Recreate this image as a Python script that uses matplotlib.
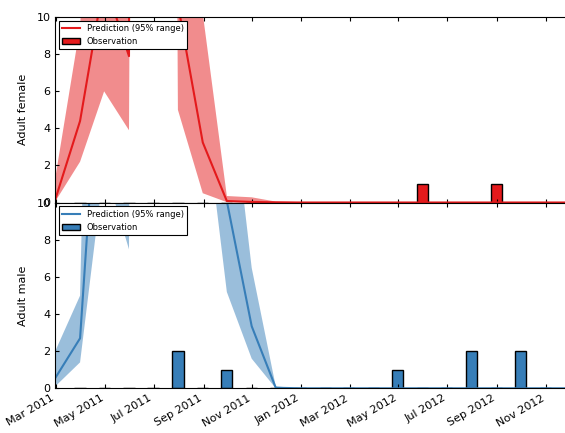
import numpy as np
import pandas as pd
import matplotlib
matplotlib.use('Agg')
import matplotlib.pyplot as plt
import matplotlib.dates as mdates

# 月末の日付 (Feb 2011 - Nov 2012)
dates = pd.date_range('2011-03-01', '2012-12-01', freq='MS') - pd.Timedelta(days=1)

# 予測 (中央値, 95%範囲) - Adult female
female_med = [0.15, 4.4, 12.0, 7.9, 500, 10.7, 3.24, 0.08, 0.03, 0.01, 0.0,
              0.0, 0.0, 0.0, 0.0, 0.0, 0.0, 0.0, 0.0, 0.0, 0.0, 0.0]
female_lo = [0.05, 2.2, 6.0, 3.9, 250, 5.0, 0.5, 0.02, 0.0, 0.0, 0.0,
             0.0, 0.0, 0.0, 0.0, 0.0, 0.0, 0.0, 0.0, 0.0, 0.0, 0.0]
female_hi = [1.3, 9.5, 30, 30, 1000, 40, 10.2, 0.35, 0.28, 0.05, 0.02,
             0.0, 0.0, 0.0, 0.0, 0.0, 0.0, 0.0, 0.0, 0.0, 0.0, 0.0]

# 予測 - Adult male
male_med = [0.55, 2.7, 22, 30, 500, 500, 30, 10.1, 3.35, 0.03, 0.0,
            0.0, 0.0, 0.0, 0.0, 0.0, 0.0, 0.0, 0.0, 0.0, 0.0, 0.0]
male_lo = [0.1, 1.4, 12, 7.5, 250, 250, 15.9, 5.2, 1.6, 0.0, 0.0,
           0.0, 0.0, 0.0, 0.0, 0.0, 0.0, 0.0, 0.0, 0.0, 0.0, 0.0]
male_hi = [2.0, 5.0, 60, 60, 1000, 1000, 60, 18, 6.5, 0.1, 0.0,
           0.0, 0.0, 0.0, 0.0, 0.0, 0.0, 0.0, 0.0, 0.0, 0.0, 0.0]

# 観測 (Mar 2011 - Nov 2012 の月末)
obs_dates = dates[1:]
female_obs = [0, 0, 0, 0, 0, 0, 0, 0, 0, 0, 0, 0, 0, 0, 1, 0, 0, 1, 0, 0, 0]
male_obs = [0, 0, 0, 0, 2, 0, 1, 0, 0, 0, 0, 0, 0, 1, 0, 0, 2, 0, 2, 0, 0]

red = '#e41a1c'
blue = '#377eb8'

plt.rcParams['font.family'] = ['DejaVu Sans']
plt.rcParams['xtick.direction'] = 'in'
plt.rcParams['ytick.direction'] = 'in'
plt.rcParams['xtick.top'] = True
plt.rcParams['ytick.right'] = True
plt.rcParams['xtick.major.size'] = 2.8
plt.rcParams['ytick.major.size'] = 2.8
plt.rcParams['xtick.labelsize'] = 8
plt.rcParams['ytick.labelsize'] = 8

fig = plt.figure(figsize=(5.65, 4.33), dpi=100)
left = 55.2 / 565
width = (569.3 - 55.2) / 565
h = 185.3 / 433
ax1 = fig.add_axes([left, 1 - 202.5 / 433, width, h])
ax2 = fig.add_axes([left, 1 - 388.3 / 433, width, h], sharex=ax1)

panels = [(ax1, female_med, female_lo, female_hi, female_obs, red, 'Adult female'),
          (ax2, male_med, male_lo, male_hi, male_obs, blue, 'Adult male')]

for ax, med, lo, hi, obs, col, lab in panels:
    ax.fill_between(dates, lo, hi, color=col, alpha=0.5, linewidth=0)
    ax.plot(dates, med, color=col, linewidth=1.5, label='Prediction (95% range)')
    ax.bar(obs_dates, obs, width=14, color=col, edgecolor='black', linewidth=1,
           align='center', label='Observation')
    ax.set_ylim(0, 10)
    ax.set_yticks([0, 2, 4, 6, 8, 10])
    ax.set_ylabel(lab, fontsize=8, labelpad=6)
    leg = ax.legend(loc='upper left', fontsize=6, fancybox=False, borderaxespad=0.4,
                    handlelength=2.2, framealpha=1)
    leg.get_frame().set_edgecolor('black')
    leg.get_frame().set_linewidth(0.8)

ax1.set_xlim(dates[0], dates[-1])
ax1.xaxis.set_major_locator(mdates.MonthLocator(bymonth=[1, 3, 5, 7, 9, 11]))
ax1.xaxis.set_major_formatter(mdates.DateFormatter('%b %Y'))
plt.setp(ax1.get_xticklabels(), visible=False)
for t in ax2.get_xticklabels():
    t.set_rotation(30)
    t.set_ha('right')

fig.savefig('out.png', dpi=100)
